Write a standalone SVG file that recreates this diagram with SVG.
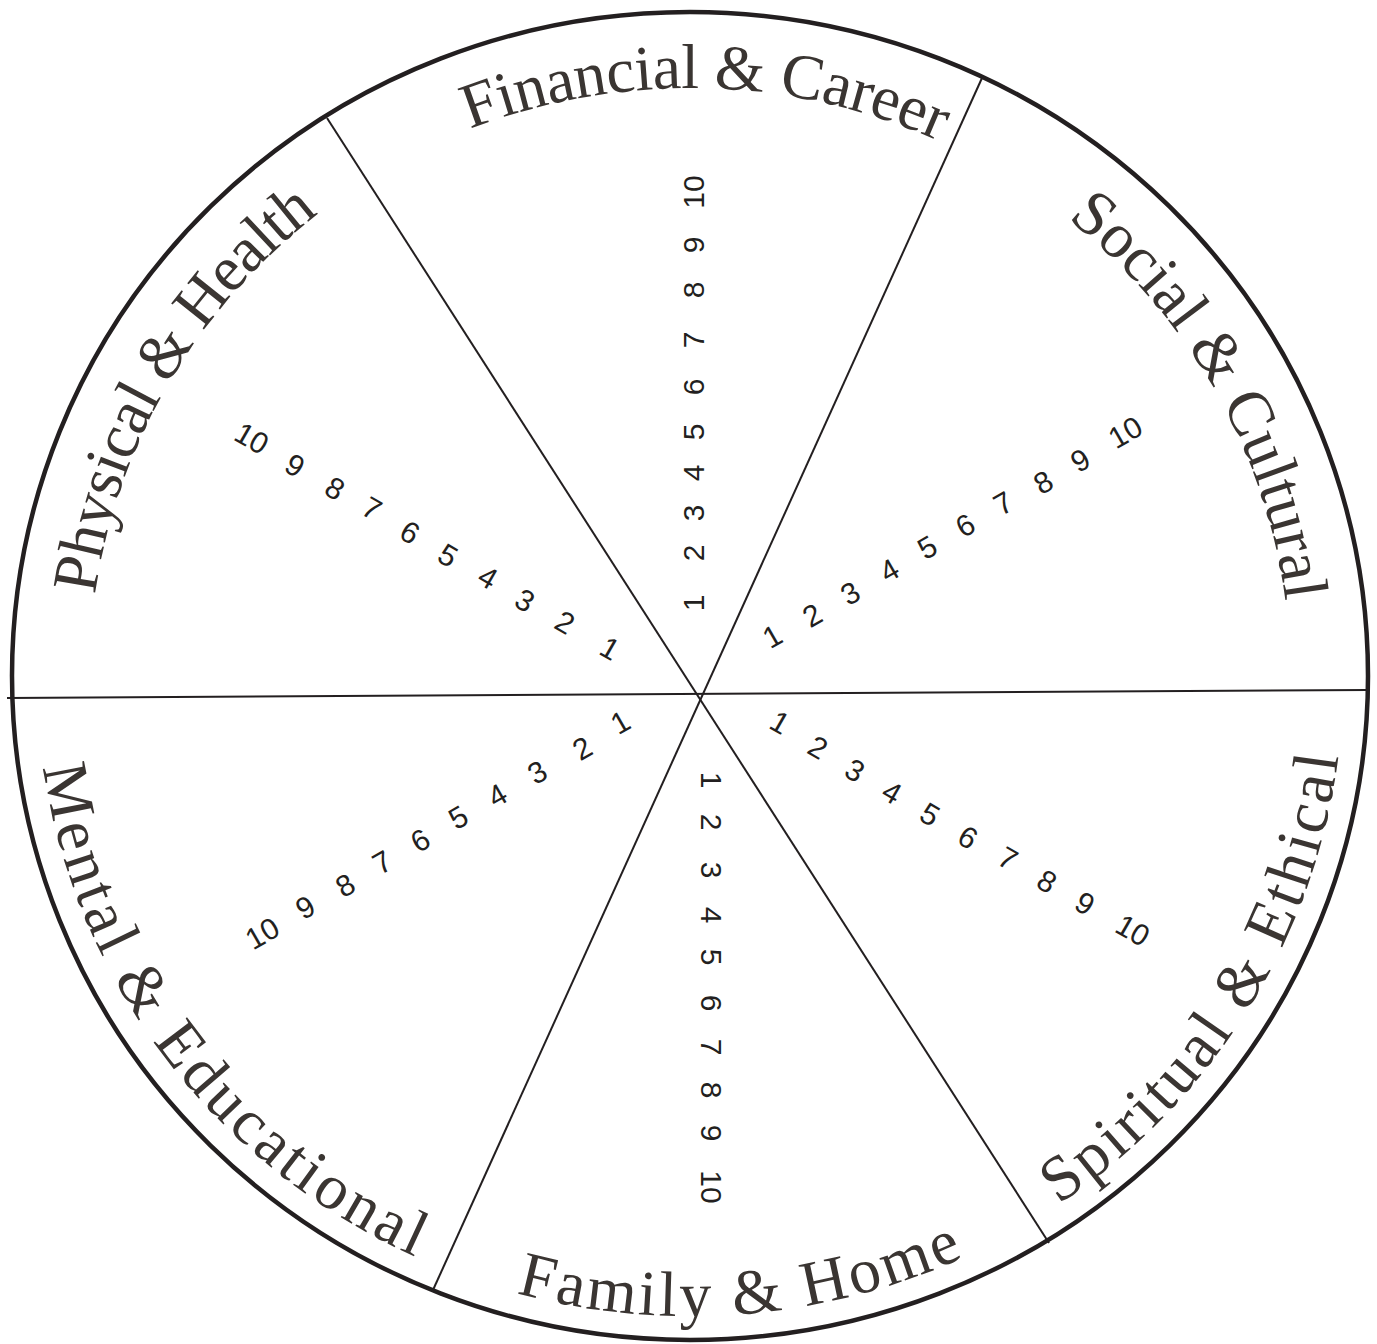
<svg xmlns="http://www.w3.org/2000/svg" width="1377" height="1344" viewBox="0 0 1377 1344">
<style>
.ring{fill:none;stroke:#231f20;stroke-width:4.5}
.spoke{fill:none;stroke:#231f20;stroke-width:2}
.lbl{font-family:"Liberation Serif","Times New Roman",serif;font-size:64px;fill:#3a3532}
.num{font-family:"Liberation Sans",Arial,sans-serif;font-size:30px;fill:#231f20;text-anchor:middle}
</style>
<defs>
<path id="pFin" d="M93.6,609.4 A600.3,588 0 0 1 1289.2,640.1"/>
<path id="pSoc" d="M448.2,137.8 A600.3,588 0 0 1 1023.5,1164.9"/>
<path id="pPhy" d="M350.8,1161.2 A600.3,588 0 0 1 938.0,140.5"/>
<path id="pMen" d="M257.9,195.9 A653.4,640 0 0 0 1030.4,1222.3"/>
<path id="pFam" d="M46.3,786.0 A653.4,640 0 0 0 1343.4,677.1"/>
<path id="pSpi" d="M405.1,1252.0 A653.4,640 0 0 0 1072.6,157.2"/>
</defs>
<rect width="1377" height="1344" fill="#ffffff"/>
<g id="wheel">
<ellipse class="ring" cx="690" cy="676" rx="678" ry="664"/>
</g>
<g id="connectors">
<line class="spoke" x1="7" y1="698" x2="1368" y2="690"/>
<line class="spoke" x1="327" y1="118" x2="1049" y2="1243"/>
<line class="spoke" x1="982" y1="78" x2="433" y2="1290"/>
</g>
<g id="sector-financial">
<text class="lbl" letter-spacing="-0.5"><textPath href="#pFin" startOffset="50%" text-anchor="middle">Financial &amp; Career</textPath></text>
<g class="num">
<text x="693" y="603" dy="0.36em" transform="rotate(-90 693 603)">1</text>
<text x="693" y="553" dy="0.36em" transform="rotate(-90 693 553)">2</text>
<text x="693" y="513" dy="0.36em" transform="rotate(-90 693 513)">3</text>
<text x="693" y="473" dy="0.36em" transform="rotate(-90 693 473)">4</text>
<text x="693" y="432" dy="0.36em" transform="rotate(-90 693 432)">5</text>
<text x="693" y="387" dy="0.36em" transform="rotate(-90 693 387)">6</text>
<text x="693" y="340" dy="0.36em" transform="rotate(-90 693 340)">7</text>
<text x="693" y="290" dy="0.36em" transform="rotate(-90 693 290)">8</text>
<text x="693" y="245" dy="0.36em" transform="rotate(-90 693 245)">9</text>
<text x="693" y="192" dy="0.36em" transform="rotate(-90 693 192)">10</text>
</g>
</g>
<g id="sector-social">
<text class="lbl"><textPath href="#pSoc" startOffset="50%" text-anchor="middle">Social &amp; Cultural</textPath></text>
<g class="num">
<text x="772" y="636" dy="0.36em" transform="rotate(-30 772 636)">1</text>
<text x="812" y="615" dy="0.36em" transform="rotate(-30 812 615)">2</text>
<text x="850" y="593" dy="0.36em" transform="rotate(-30 850 593)">3</text>
<text x="889" y="570" dy="0.36em" transform="rotate(-30 889 570)">4</text>
<text x="927" y="547" dy="0.36em" transform="rotate(-30 927 547)">5</text>
<text x="965" y="525" dy="0.36em" transform="rotate(-30 965 525)">6</text>
<text x="1003" y="503" dy="0.36em" transform="rotate(-30 1003 503)">7</text>
<text x="1043" y="482" dy="0.36em" transform="rotate(-30 1043 482)">8</text>
<text x="1080" y="460" dy="0.36em" transform="rotate(-30 1080 460)">9</text>
<text x="1125" y="432" dy="0.36em" transform="rotate(-30 1125 432)">10</text>
</g>
</g>
<g id="sector-spiritual">
<text class="lbl" letter-spacing="3.4"><textPath href="#pSpi" startOffset="50%" text-anchor="middle">Spiritual &amp; Ethical</textPath></text>
<g class="num">
<text x="780" y="722" dy="0.36em" transform="rotate(30 780 722)">1</text>
<text x="818" y="747" dy="0.36em" transform="rotate(30 818 747)">2</text>
<text x="855" y="770" dy="0.36em" transform="rotate(30 855 770)">3</text>
<text x="892" y="792" dy="0.36em" transform="rotate(30 892 792)">4</text>
<text x="930" y="814" dy="0.36em" transform="rotate(30 930 814)">5</text>
<text x="968" y="837" dy="0.36em" transform="rotate(30 968 837)">6</text>
<text x="1008" y="858" dy="0.36em" transform="rotate(30 1008 858)">7</text>
<text x="1047" y="881" dy="0.36em" transform="rotate(30 1047 881)">8</text>
<text x="1085" y="903" dy="0.36em" transform="rotate(30 1085 903)">9</text>
<text x="1133" y="930" dy="0.36em" transform="rotate(30 1133 930)">10</text>
</g>
</g>
<g id="sector-family">
<text class="lbl" letter-spacing="3.2"><textPath href="#pFam" startOffset="50%" text-anchor="middle">Family &amp; Home</textPath></text>
<g class="num">
<text x="712" y="780" dy="0.36em" transform="rotate(90 712 780)">1</text>
<text x="712" y="822" dy="0.36em" transform="rotate(90 712 822)">2</text>
<text x="712" y="870" dy="0.36em" transform="rotate(90 712 870)">3</text>
<text x="712" y="915" dy="0.36em" transform="rotate(90 712 915)">4</text>
<text x="712" y="957" dy="0.36em" transform="rotate(90 712 957)">5</text>
<text x="712" y="1003" dy="0.36em" transform="rotate(90 712 1003)">6</text>
<text x="712" y="1047" dy="0.36em" transform="rotate(90 712 1047)">7</text>
<text x="712" y="1090" dy="0.36em" transform="rotate(90 712 1090)">8</text>
<text x="712" y="1133" dy="0.36em" transform="rotate(90 712 1133)">9</text>
<text x="712" y="1187" dy="0.36em" transform="rotate(90 712 1187)">10</text>
</g>
</g>
<g id="sector-mental">
<text class="lbl" letter-spacing="3.8"><textPath href="#pMen" startOffset="50%" text-anchor="middle">Mental &amp; Educational</textPath></text>
<g class="num">
<text x="620" y="722" dy="0.36em" transform="rotate(-30 620 722)">1</text>
<text x="582" y="748" dy="0.36em" transform="rotate(-30 582 748)">2</text>
<text x="537" y="772" dy="0.36em" transform="rotate(-30 537 772)">3</text>
<text x="497" y="795" dy="0.36em" transform="rotate(-30 497 795)">4</text>
<text x="458" y="817" dy="0.36em" transform="rotate(-30 458 817)">5</text>
<text x="420" y="840" dy="0.36em" transform="rotate(-30 420 840)">6</text>
<text x="382" y="862" dy="0.36em" transform="rotate(-30 382 862)">7</text>
<text x="345" y="885" dy="0.36em" transform="rotate(-30 345 885)">8</text>
<text x="305" y="907" dy="0.36em" transform="rotate(-30 305 907)">9</text>
<text x="262" y="933" dy="0.36em" transform="rotate(-30 262 933)">10</text>
</g>
</g>
<g id="sector-physical">
<text class="lbl" letter-spacing="-1"><textPath href="#pPhy" startOffset="50%" text-anchor="middle">Physical &amp; Health</textPath></text>
<g class="num">
<text x="610" y="648" dy="0.36em" transform="rotate(30 610 648)">1</text>
<text x="565" y="622" dy="0.36em" transform="rotate(30 565 622)">2</text>
<text x="525" y="600" dy="0.36em" transform="rotate(30 525 600)">3</text>
<text x="488" y="577" dy="0.36em" transform="rotate(30 488 577)">4</text>
<text x="448" y="555" dy="0.36em" transform="rotate(30 448 555)">5</text>
<text x="410" y="532" dy="0.36em" transform="rotate(30 410 532)">6</text>
<text x="372" y="508" dy="0.36em" transform="rotate(30 372 508)">7</text>
<text x="335" y="488" dy="0.36em" transform="rotate(30 335 488)">8</text>
<text x="295" y="465" dy="0.36em" transform="rotate(30 295 465)">9</text>
<text x="252" y="438" dy="0.36em" transform="rotate(30 252 438)">10</text>
</g>
</g>
</svg>
